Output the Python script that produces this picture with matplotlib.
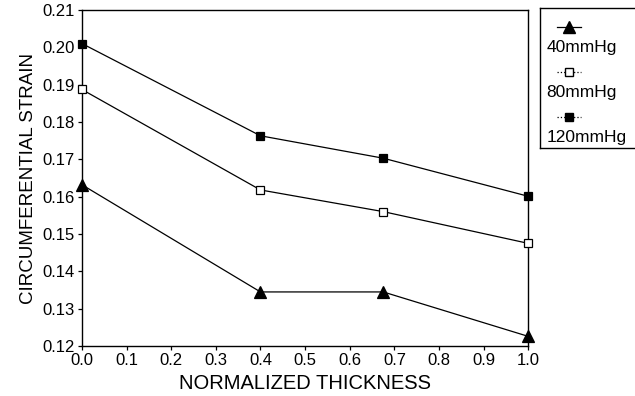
import matplotlib.pyplot as plt
from matplotlib.lines import Line2D

plt.rcParams['font.family'] = ['Liberation Sans', 'DejaVu Sans']

# data
thickness = [0.0, 0.4, 0.675, 1.0]
strain_40 = [0.1632, 0.1345, 0.1345, 0.1226]
strain_80 = [0.1887, 0.1618, 0.1560, 0.1475]
strain_120 = [0.2010, 0.1763, 0.1703, 0.1601]
labels = ['40mmHg', '80mmHg', '120mmHg']
markers = ['^', 's', 's']
fills = ['black', 'white', 'black']
sizes = [8, 5.5, 5.5]

fig = plt.figure(figsize=(6.35, 3.96), dpi=100)
ax = fig.add_axes([0.129, 0.126, 0.703, 0.849])

for ys, m, fc, ms in zip([strain_40, strain_80, strain_120], markers, fills, sizes):
    ax.plot(thickness, ys, color='black', lw=0.9, marker=m, ms=ms,
            mfc=fc, mec='black', mew=0.9, clip_on=False, zorder=3)

ax.set_xlim(0, 1.0)
ax.set_ylim(0.12, 0.21)
ax.set_xticks([i / 10 for i in range(11)])
ax.set_yticks([0.12 + i * 0.01 for i in range(10)])
ax.xaxis.set_major_formatter(plt.FormatStrFormatter('%.1f'))
ax.yaxis.set_major_formatter(plt.FormatStrFormatter('%.2f'))
ax.tick_params(direction='out', length=3, width=0.9, labelsize=12, pad=2)
for s in ax.spines.values():
    s.set_linewidth(1.0)
ax.set_xlabel('NORMALIZED THICKNESS', fontsize=14.5, labelpad=4)
ax.set_ylabel('CIRCUMFERENTIAL STRAIN', fontsize=13.5, labelpad=4)

# legend box: sample line above each label
lax = fig.add_axes([0.851, 0.626, 0.16, 0.355])
lax.set_xlim(0, 1)
lax.set_ylim(0, 1)
lax.set_xticks([])
lax.set_yticks([])
for s in lax.spines.values():
    s.set_linewidth(1.0)
styles = ['-', ':', ':']
for i, (lab, m, fc, ms, ls) in enumerate(zip(labels, markers, fills, sizes, styles)):
    y0 = 0.86 - i * 0.32
    lax.add_line(Line2D([0.16, 0.28, 0.4], [y0, y0, y0], color='black', lw=0.9,
                        ls=ls, marker=m, markevery=[1], ms=ms, mfc=fc,
                        mec='black'))
    lax.text(0.06, y0 - 0.145, lab, fontsize=12.5, va='center', ha='left')

fig.savefig('out.png', dpi=100)
plt.close(fig)
